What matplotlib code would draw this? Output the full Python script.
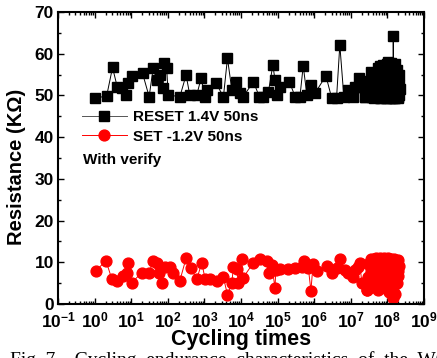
import matplotlib
matplotlib.use("Agg")
import matplotlib.pyplot as plt
import numpy as np
from matplotlib.ticker import FixedLocator, NullFormatter

plt.rcParams['font.family'] = ['Liberation Sans', 'DejaVu Sans']
plt.rcParams['mathtext.fontset'] = 'custom'
plt.rcParams['mathtext.bf'] = 'Liberation Sans:bold'
plt.rcParams['mathtext.rm'] = 'Liberation Sans:bold'
plt.rcParams['mathtext.it'] = 'Liberation Sans:bold'

# RESET (black squares): log10(cycles), resistance (kOhm)
reset_log_cycles = [0.01, 0.33, 0.49, 0.62, 0.74, 0.86, 0.92, 1.01, 1.31, 1.49, 1.60, 1.70,
                    1.79, 1.87, 1.90, 1.97, 2.01, 2.33, 2.50, 2.60, 2.79, 2.91, 3.02, 3.08,
                    3.32, 3.52, 3.63, 3.75, 3.86, 3.97, 4.06, 4.34, 4.50, 4.61, 4.75, 4.87,
                    4.93, 4.97, 5.07, 5.32, 5.48, 5.61, 5.70, 5.80, 5.90, 6.02, 6.32, 6.48,
                    6.61, 6.70, 6.81, 6.93, 7.07, 7.11, 7.23, 7.34, 7.39,
                    7.40, 7.43, 7.45, 7.48, 7.50, 7.53, 7.55, 7.58, 7.60, 7.62, 7.64, 7.66,
                    7.68, 7.70, 7.72, 7.73, 7.75, 7.76, 7.78, 7.79, 7.81, 7.82, 7.84, 7.85,
                    7.87, 7.88, 7.89, 7.90, 7.92, 7.93, 7.95, 7.96, 7.97, 7.98, 7.99, 8.00,
                    8.01, 8.02, 8.03, 8.04, 8.05, 8.06, 8.07, 8.08, 8.09, 8.10, 8.11, 8.12,
                    8.13, 8.14, 8.15, 8.16, 8.17, 8.18, 8.19, 8.20, 8.21, 8.22, 8.23, 8.24,
                    8.25, 8.26, 8.27, 8.28, 8.29, 8.30, 8.31, 8.32, 8.33, 8.34]
reset_values = [49.3, 49.9, 56.7, 52.0, 51.8, 50.1, 53.0, 54.7, 55.3, 49.7, 56.5, 53.7,
                54.9, 51.7, 57.7, 56.5, 50.1, 49.7, 54.9, 50.1, 50.1, 54.1, 49.7, 51.3,
                52.9, 49.7, 58.9, 51.3, 53.3, 50.5, 49.7, 53.3, 49.7, 49.7, 50.9, 57.3,
                53.7, 50.1, 52.1, 53.3, 49.7, 49.7, 57.1, 50.1, 52.5, 50.5, 54.7, 49.3,
                49.3, 62.1, 49.7, 51.3, 49.7, 52.1, 54.1, 52.1, 49.7,
                49.7, 51.5, 53.5, 49.8, 50.0, 52.8, 55.7, 49.6, 51.0, 52.5, 49.5, 54.1,
                50.5, 49.8, 53.2, 56.5, 49.6, 50.5, 55.0, 57.0, 49.5, 49.5, 52.0, 53.0,
                50.3, 57.2, 54.0, 49.8, 51.5, 55.0, 49.4, 51.0, 53.8, 57.5, 50.5, 49.5,
                56.0, 58.1, 51.5, 52.0, 49.6, 49.4, 54.5, 56.0, 50.8, 50.2, 57.8, 54.5,
                49.5, 49.6, 52.5, 64.3, 55.0, 51.0, 49.4, 57.5, 53.0, 49.5, 52.0, 55.0,
                49.6, 50.0, 56.0, 53.5, 49.5, 49.6, 52.5, 54.8, 50.2, 51.5]

# SET (red circles)
set_log_cycles = [0.03, 0.31, 0.47, 0.62, 0.78, 0.88, 0.90, 1.01, 1.29, 1.49, 1.60, 1.70,
                  1.77, 1.83, 1.92, 2.06, 2.15, 2.33, 2.50, 2.63, 2.79, 2.93, 3.02, 3.15,
                  3.34, 3.52, 3.63, 3.75, 3.79, 3.88, 3.93, 4.02, 4.05, 4.34, 4.52, 4.70,
                  4.77, 4.84, 4.93, 4.95, 5.07, 5.29, 5.48, 5.66, 5.72, 5.84, 5.91, 5.97,
                  6.07, 6.34, 6.48, 6.61, 6.70, 6.84, 6.93, 7.07, 7.11, 7.20, 7.25, 7.30,
                  7.43,
                  7.45, 7.47, 7.48, 7.50, 7.52, 7.54, 7.55, 7.57, 7.58, 7.60, 7.62, 7.63,
                  7.65, 7.66, 7.68, 7.69, 7.71, 7.72, 7.74, 7.75, 7.77, 7.78, 7.80, 7.81,
                  7.83, 7.84, 7.86, 7.87, 7.88, 7.89, 7.90, 7.92, 7.93, 7.95, 7.96, 7.97,
                  7.98, 7.99, 8.00, 8.01, 8.02, 8.03, 8.05, 8.06, 8.07, 8.08, 8.09, 8.10,
                  8.11, 8.12, 8.13, 8.14, 8.15, 8.16, 8.17, 8.18, 8.19, 8.20, 8.21, 8.22,
                  8.23, 8.24, 8.25, 8.26, 8.27, 8.28, 8.29, 8.30, 8.31]
set_values = [7.9, 10.4, 6.0, 5.6, 6.7, 7.4, 9.9, 5.1, 7.5, 7.5, 10.4, 9.8,
              7.4, 5.1, 8.9, 8.8, 7.4, 5.6, 11.0, 8.6, 5.9, 9.9, 5.9, 5.9,
              5.6, 6.4, 2.2, 5.0, 8.8, 8.3, 5.1, 10.7, 6.2, 9.9, 10.7, 10.2,
              7.4, 9.4, 3.8, 8.2, 8.3, 8.3, 8.6, 8.9, 10.2, 8.6, 3.2, 9.6,
              7.8, 9.1, 7.4, 8.6, 10.7, 8.2, 7.4, 6.4, 8.2, 8.9, 9.8, 5.0,
              3.4,
              3.4, 6.5, 9.5, 4.8, 6.0, 8.0, 10.8, 7.2, 4.0, 8.5, 6.0, 10.9,
              9.0, 6.5, 4.5, 11.0, 8.2, 7.5, 5.5, 3.3, 6.8, 9.8, 11.0, 8.5,
              5.5, 7.0, 10.5, 9.2, 8.0, 4.2, 11.0, 6.5, 3.8, 7.8, 9.0, 10.0,
              10.8, 5.2, 6.0, 8.8, 11.0, 7.5, 2.8, 5.8, 9.5, 10.5, 7.0, 4.0,
              10.9, 8.8, 4.5, 6.5, 1.4, 3.0, 8.5, 10.0, 10.8, 6.2, 2.5, 4.8,
              7.5, 9.8, 10.0, 8.2, 5.0, 6.8, 8.0, 10.5, 9.0]

x_tick_exps = list(range(-1, 10))
y_ticks = [0, 10, 20, 30, 40, 50, 60, 70]

fig = plt.figure(figsize=(4.37, 3.58), dpi=100)
ax = fig.add_axes([58/437, 1-304/358, 366/437, 292/358])

reset_x = [10**e for e in reset_log_cycles]
set_x = [10**e for e in set_log_cycles]

ax.plot(reset_x, reset_values, '-', color='black', lw=0.7, marker='s', ms=6.6,
        mfc='black', mec='black', label='RESET 1.4V 50ns')
ax.plot(set_x, set_values, '-', color='red', lw=0.7, marker='o', ms=7.8,
        mfc='red', mec='red', label='SET -1.2V 50ns')

ax.set_xscale('log')
ax.set_xlim(10**-1, 10**9)
ax.set_ylim(0, 70)
ax.xaxis.set_major_locator(FixedLocator([10.0**e for e in x_tick_exps]))
ax.set_xticklabels([r'$\mathbf{10^{%d}}$' % e for e in x_tick_exps])
minor = [m * 10.0**e for e in range(-1, 9) for m in range(2, 10)]
ax.xaxis.set_minor_locator(FixedLocator(minor))
ax.xaxis.set_minor_formatter(NullFormatter())
ax.set_yticks(y_ticks)
ax.set_yticks([5, 15, 25, 35, 45, 55, 65], minor=True)

ax.tick_params(which='both', direction='in', top=True, right=True, width=1.0)
ax.tick_params(which='major', length=4.5, labelsize=12.5)
ax.tick_params(axis='x', which='major', pad=5)
ax.tick_params(axis='y', which='major', pad=3)
ax.tick_params(which='minor', length=2.5)
for lbl in ax.get_yticklabels():
    lbl.set_fontweight('bold')
for s in ax.spines.values():
    s.set_linewidth(1.5)

ax.set_xlabel('Cycling times', fontsize=15.5, fontweight='bold', labelpad=-1)
ax.set_ylabel('Resistance (K\u03a9)', fontsize=14.5, fontweight='bold')
ax.yaxis.set_label_coords(-0.088, 0.47)

leg = ax.legend(loc='upper left', bbox_to_anchor=(0.035, 0.70), frameon=False,
                prop={'weight': 'bold', 'size': 11}, handlelength=3.0,
                handletextpad=0.4, labelspacing=0.35, borderaxespad=0.3)
leg.get_lines()[0].set_color('#555555')
leg.get_lines()[0].set_markerfacecolor('black')
leg.get_lines()[0].set_markeredgecolor('black')

ax.text(0.068, 0.493, 'With verify', transform=ax.transAxes, fontsize=11,
        fontweight='bold', va='center', ha='left')

fig.text(10/437, 1-351/358, 'Fig. 7.   Cycling  endurance  characteristics  of  the  WO',
         family='Liberation Serif', fontsize=14, va='top', ha='left')

fig.savefig('out.png', dpi=100)
